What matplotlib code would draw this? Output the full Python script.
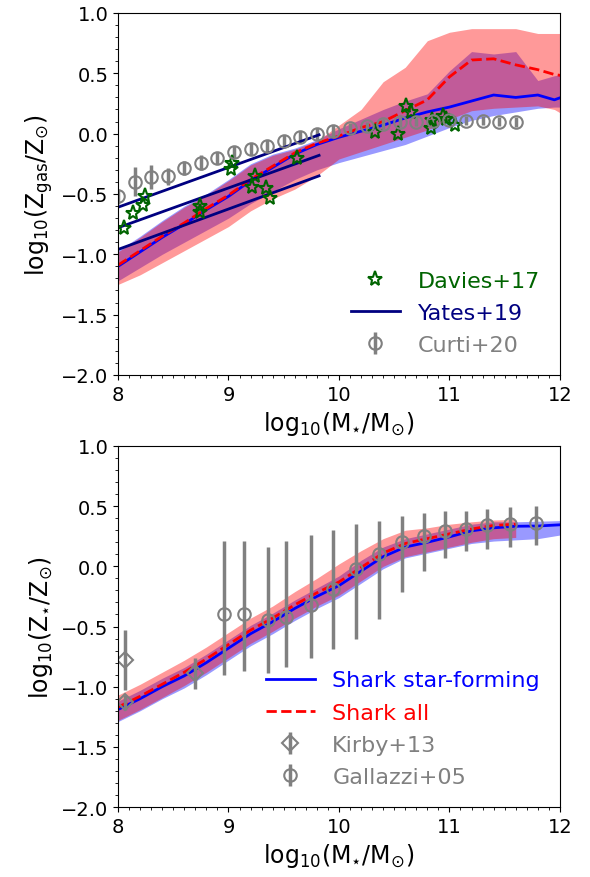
import numpy as np
import matplotlib
matplotlib.use('Agg')
import matplotlib.pyplot as plt
from matplotlib.ticker import MultipleLocator

nan = np.nan

# --- gas-phase metallicity, Shark medians and 16-84th percentiles ---
mgas = [8.0, 8.2, 8.4, 8.6, 8.8, 9.0, 9.2, 9.4, 9.6, 9.8, 10.0, 10.2, 10.4,
        10.6, 10.8, 11.0, 11.2, 11.4, 11.6, 11.8, 11.95, 12.1]
zgas_sf_med = [-1.10, -0.98, -0.86, -0.75, -0.63, -0.52, -0.39, -0.28, -0.17, -0.09, -0.03,
               0.02, 0.07, 0.13, 0.18, 0.22, 0.27, 0.32, 0.30, 0.32, 0.28, 0.33]
zgas_sf_lo = [-1.22, -1.11, -1.00, -0.90, -0.80, -0.70, -0.58, -0.48, -0.38, -0.30, -0.24,
              -0.19, -0.14, -0.09, -0.02, 0.05, 0.11, 0.15, 0.18, 0.21, 0.22, 0.22]
zgas_sf_hi = [-0.97, -0.85, -0.72, -0.60, -0.50, -0.38, -0.25, -0.17, -0.12, -0.05, 0.04,
              0.12, 0.20, 0.27, 0.33, 0.52, 0.68, 0.66, 0.68, 0.44, 0.48, 0.50]
zgas_all_med = [-1.09, -0.97, -0.85, -0.74, -0.62, -0.51, -0.38, -0.27, -0.16, -0.08, -0.02,
                0.05, 0.10, 0.19, 0.28, 0.47, 0.61, 0.62, 0.57, 0.53, 0.49, 0.47]
zgas_all_lo = [-1.25, -1.17, -1.07, -0.97, -0.87, -0.77, -0.64, -0.54, -0.46, -0.35, -0.21,
               -0.15, -0.09, -0.03, 0.03, 0.12, 0.19, 0.21, 0.22, 0.23, 0.20, 0.12]
zgas_all_hi = [-0.98, -0.86, -0.73, -0.61, -0.51, -0.39, -0.26, -0.18, -0.13, -0.06, 0.07,
               0.20, 0.43, 0.55, 0.77, 0.84, 0.87, 0.87, 0.87, 0.83, 0.83, 0.83]

# Davies+17
davies_m = [8.05, 8.14, 8.23, 8.24, 8.74, 8.74, 9.02, 9.03, 9.21, 9.24, 9.34, 9.38, 9.62,
            10.33, 10.53, 10.61, 10.65, 10.83, 10.84, 10.94, 10.97, 11.05]
davies_z = [-0.78, -0.66, -0.59, -0.52, -0.60, -0.65, -0.29, -0.24, -0.44, -0.35, -0.45, -0.53,
            -0.20, 0.01, 0.00, 0.23, 0.18, 0.05, 0.11, 0.15, 0.12, 0.07]

# Yates+19 relations
yates_m = [8.0, 9.82]
yates_z = [[-0.61, -0.01], [-0.78, -0.18], [-0.96, -0.35]]

# Curti+20
curti_m = [8.0, 8.15, 8.3, 8.45, 8.6, 8.75, 8.9, 9.05, 9.2, 9.35, 9.5, 9.65, 9.8, 9.95,
           10.1, 10.25, 10.4, 10.55, 10.7, 10.85, 11.0, 11.15, 11.3, 11.45, 11.6]
curti_z = [-0.52, -0.40, -0.36, -0.355, -0.285, -0.24, -0.20, -0.155, -0.13, -0.10, -0.06,
           -0.03, 0.0, 0.025, 0.047, 0.06, 0.08, 0.094, 0.10, 0.108, 0.11, 0.108, 0.108,
           0.10, 0.094]
curti_err = [0.06, 0.12, 0.10, 0.07, 0.06, 0.06, 0.05, 0.05, 0.05, 0.05, 0.05, 0.05, 0.05,
             0.05, 0.04, 0.04, 0.04, 0.04, 0.04, 0.04, 0.04, 0.04, 0.04, 0.04, 0.04]

# --- stellar metallicity ---
mstar = [8.0, 8.2, 8.4, 8.6, 8.8, 9.0, 9.2, 9.4, 9.6, 9.8, 10.0, 10.2, 10.4, 10.6, 10.8,
         11.0, 11.2, 11.4, 11.6, 11.8, 12.0]
zstar_sf_med = [-1.19, -1.10, -1.00, -0.91, -0.80, -0.68, -0.56, -0.46, -0.35, -0.25, -0.16,
                -0.04, 0.08, 0.16, 0.20, 0.245, 0.295, 0.32, 0.333, 0.335, 0.345]
zstar_sf_lo = [-1.29, -1.20, -1.10, -1.01, -0.90, -0.78, -0.66, -0.56, -0.45, -0.35, -0.26,
               -0.14, -0.02, 0.07, 0.11, 0.15, 0.19, 0.21, 0.22, 0.23, 0.26]
zstar_sf_hi = [-1.12, -1.03, -0.93, -0.84, -0.73, -0.61, -0.49, -0.39, -0.28, -0.18, -0.08,
               0.05, 0.16, 0.23, 0.27, 0.31, 0.35, 0.37, 0.37, 0.375, 0.38]
zstar_all_med = [-1.17, -1.08, -0.98, -0.88, -0.77, -0.65, -0.53, -0.43, -0.32, -0.22, -0.13,
                 -0.01, 0.11, 0.19, 0.23, 0.27, 0.31, 0.34, 0.35, nan, nan]
zstar_all_lo = [-1.28, -1.19, -1.09, -0.99, -0.88, -0.76, -0.64, -0.54, -0.43, -0.33, -0.24,
                -0.12, 0.00, 0.08, 0.12, 0.16, 0.20, 0.23, 0.24, nan, nan]
zstar_all_hi = [-1.07, -0.98, -0.88, -0.78, -0.67, -0.55, -0.43, -0.33, -0.21, -0.10, 0.02,
                0.13, 0.23, 0.30, 0.32, 0.35, 0.37, 0.385, 0.39, nan, nan]

# Kirby+13
kirby_m = [8.06, 8.06, 8.70]
kirby_z = [-0.78, -1.13, -0.89]
kirby_err = [0.25, 0.06, 0.13]

# Gallazzi+05 (median and percentiles)
gallazzi_m = [8.96, 9.14, 9.36, 9.52, 9.75, 9.95, 10.15, 10.36, 10.57, 10.77, 10.96,
              11.15, 11.34, 11.55, 11.78]
gallazzi_z = [-0.40, -0.40, -0.445, -0.42, -0.32, -0.19, -0.02, 0.10, 0.20, 0.25, 0.29,
              0.31, 0.34, 0.355, 0.36]
gallazzi_lo = [-0.90, -0.87, -0.89, -0.84, -0.76, -0.69, -0.60, -0.44, -0.21, -0.04, 0.07,
               0.125, 0.147, 0.158, 0.18]
gallazzi_hi = [0.21, 0.21, 0.16, 0.21, 0.26, 0.30, 0.35, 0.38, 0.42, 0.44, 0.46, 0.46,
               0.48, 0.49, 0.505]

fs_tick = 14
fs_label = 17
fs_leg = 16
leg_kw = dict(loc='lower right', frameon=False, fontsize=fs_leg, handlelength=2.2,
              handletextpad=0.8, labelspacing=0.55)

fig = plt.figure(figsize=(5.9, 8.78), dpi=100)
ax1 = fig.add_axes([0.2, 0.5718, 0.749, 0.4123])
ax2 = fig.add_axes([0.2, 0.0797, 0.749, 0.4112])

ebar_kw = dict(ls='none', mfc='none', mec='grey', ecolor='grey', color='grey',
               mew=1.5, elinewidth=2.5, capsize=0)

# top panel: gas metallicity
ax1.fill_between(mgas, zgas_sf_lo, zgas_sf_hi, color='blue', alpha=0.4, lw=0)
ax1.fill_between(mgas, zgas_all_lo, zgas_all_hi, color='red', alpha=0.4, lw=0)
ax1.plot(mgas, zgas_sf_med, color='blue', lw=2)
ax1.plot(mgas, zgas_all_med, color='red', ls='--', lw=2)
h_curti = ax1.errorbar(curti_m, curti_z, yerr=curti_err, marker='o', ms=9, **ebar_kw)
for yz in yates_z:
    h_yates, = ax1.plot(yates_m, yz, color='navy', lw=2)
h_davies, = ax1.plot(davies_m, davies_z, ls='none', marker='*', ms=11, mfc='none',
                     mec='darkgreen', mew=1.5)
ax1.legend([h_davies, h_yates, h_curti], ['Davies+17', 'Yates+19', 'Curti+20'],
           labelcolor=['darkgreen', 'navy', 'grey'], **leg_kw)
ax1.set_ylabel(r'$\rm log_{10}(Z_{gas}/Z_{\odot})$', fontsize=fs_label)

# bottom panel: stellar metallicity
ax2.fill_between(mstar, zstar_sf_lo, zstar_sf_hi, color='blue', alpha=0.4, lw=0)
ax2.fill_between(mstar, zstar_all_lo, zstar_all_hi, color='red', alpha=0.4, lw=0)
h_sf, = ax2.plot(mstar, zstar_sf_med, color='blue', lw=2)
h_all, = ax2.plot(mstar, zstar_all_med, color='red', ls='--', lw=2)
h_kirby = ax2.errorbar(kirby_m, kirby_z, yerr=kirby_err, marker='D', ms=8, **ebar_kw)
gal_err = [np.array(gallazzi_z) - np.array(gallazzi_lo),
           np.array(gallazzi_hi) - np.array(gallazzi_z)]
h_gal = ax2.errorbar(gallazzi_m, gallazzi_z, yerr=gal_err, marker='o', ms=9, **ebar_kw)
ax2.legend([h_sf, h_all, h_kirby, h_gal],
           ['Shark star-forming', 'Shark all', 'Kirby+13', 'Gallazzi+05'],
           labelcolor=['blue', 'red', 'grey', 'grey'], **leg_kw)
ax2.set_ylabel(r'$\rm log_{10}(Z_{\star}/Z_{\odot})$', fontsize=fs_label)

for ax in (ax1, ax2):
    ax.set_xlim(8, 12)
    ax.set_ylim(-2, 1)
    ax.set_xticks([8, 9, 10, 11, 12])
    ax.set_yticks(np.arange(-2, 1.01, 0.5))
    ax.xaxis.set_minor_locator(MultipleLocator(0.1))
    ax.yaxis.set_minor_locator(MultipleLocator(0.1))
    ax.tick_params(labelsize=fs_tick)
    ax.set_xlabel(r'$\rm log_{10}(M_{\star}/M_{\odot})$', fontsize=fs_label)

fig.savefig('out.png', dpi=100)
